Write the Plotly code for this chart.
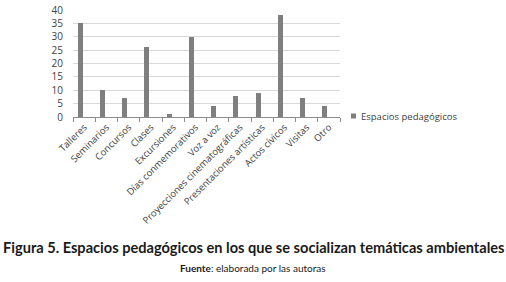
import plotly.graph_objects as go

categories = ["Talleres", "Seminarios", "Concursos", "Clases", "Excursiones",
              "Días conmemorativos", "Voz a voz", "Proyecciones cinematográficas",
              "Presentaciones artísticas", "Actos cívicos", "Visitas", "Otro"]
values = [35, 10, 7, 26, 1, 30, 4, 8, 9, 38, 7, 4]
series_name = "Espacios pedagógicos"
y_ticks = [0, 5, 10, 15, 20, 25, 30, 35, 40]
title = "Figura 5. Espacios pedagógicos en los que se socializan temáticas ambientales"
source_bold = "Fuente"
source_rest = ": elaborada por las autoras"

W, H = 506, 282
L, R, T, B = 73, 166, 10, 165
pw = W - L - R
ph = H - T - B
BAR_COLOR = "#7f7f7f"


def px_x(x):
    return (x - L) / pw


def px_y(y):
    return (H - B - y) / ph


fig = go.Figure()
fig.add_trace(go.Bar(
    x=categories, y=values, name=series_name,
    marker=dict(color=BAR_COLOR, line=dict(width=0)),
    width=0.22, offset=-0.29, showlegend=False,
))

fig.update_layout(
    width=W, height=H,
    margin=dict(l=L, r=R, t=T, b=B, pad=0, autoexpand=False),
    paper_bgcolor="white", plot_bgcolor="white",
    font=dict(family="Open Sans, sans-serif", size=9, color="#404040"),
    showlegend=False,
    bargap=0,
)
fig.update_xaxes(
    type="category", tickangle=-45, showgrid=False, automargin=False,
    showline=True, linecolor="#8c8c8c", linewidth=1,
    ticks="outside", tickson="boundaries", ticklen=4, tickcolor="#8c8c8c",
    tickfont=dict(size=9.5, color="#404040"),
    range=[-0.5, len(categories) - 0.5],
)
fig.update_yaxes(
    range=[0, 40], tickvals=y_ticks, showgrid=True, gridcolor="#d9d9d9",
    gridwidth=1, zeroline=False, showline=False, automargin=False,
    ticks="outside", ticklen=7, tickcolor="rgba(0,0,0,0)",
    tickfont=dict(size=10, color="#404040"),
)

# legend (manual, Excel-style: small square + label)
fig.add_shape(type="rect", xref="paper", yref="paper",
              x0=px_x(351), x1=px_x(356), y0=px_y(118.5), y1=px_y(113.5),
              fillcolor=BAR_COLOR, line=dict(width=0))
fig.add_annotation(text=series_name, xref="paper", yref="paper",
                   x=px_x(359), y=px_y(116), xanchor="left", yanchor="middle",
                   showarrow=False, font=dict(size=9.5, color="#404040"))

fig.add_annotation(
    text="<b>" + title + "</b>", xref="paper", yref="paper",
    x=px_x(253), y=px_y(247), xanchor="center", yanchor="middle",
    showarrow=False, font=dict(family="Lato, sans-serif", size=14.6, color="#1a1a1a"),
)
fig.add_annotation(
    text="<b>" + source_bold + "</b>" + source_rest, xref="paper", yref="paper",
    x=px_x(253), y=px_y(268), xanchor="center", yanchor="middle",
    showarrow=False, font=dict(family="Lato, sans-serif", size=10, color="#1a1a1a"),
)

fig.write_html("out.html", config={"displayModeBar": False},
               post_script="document.body.style.margin='0';")
